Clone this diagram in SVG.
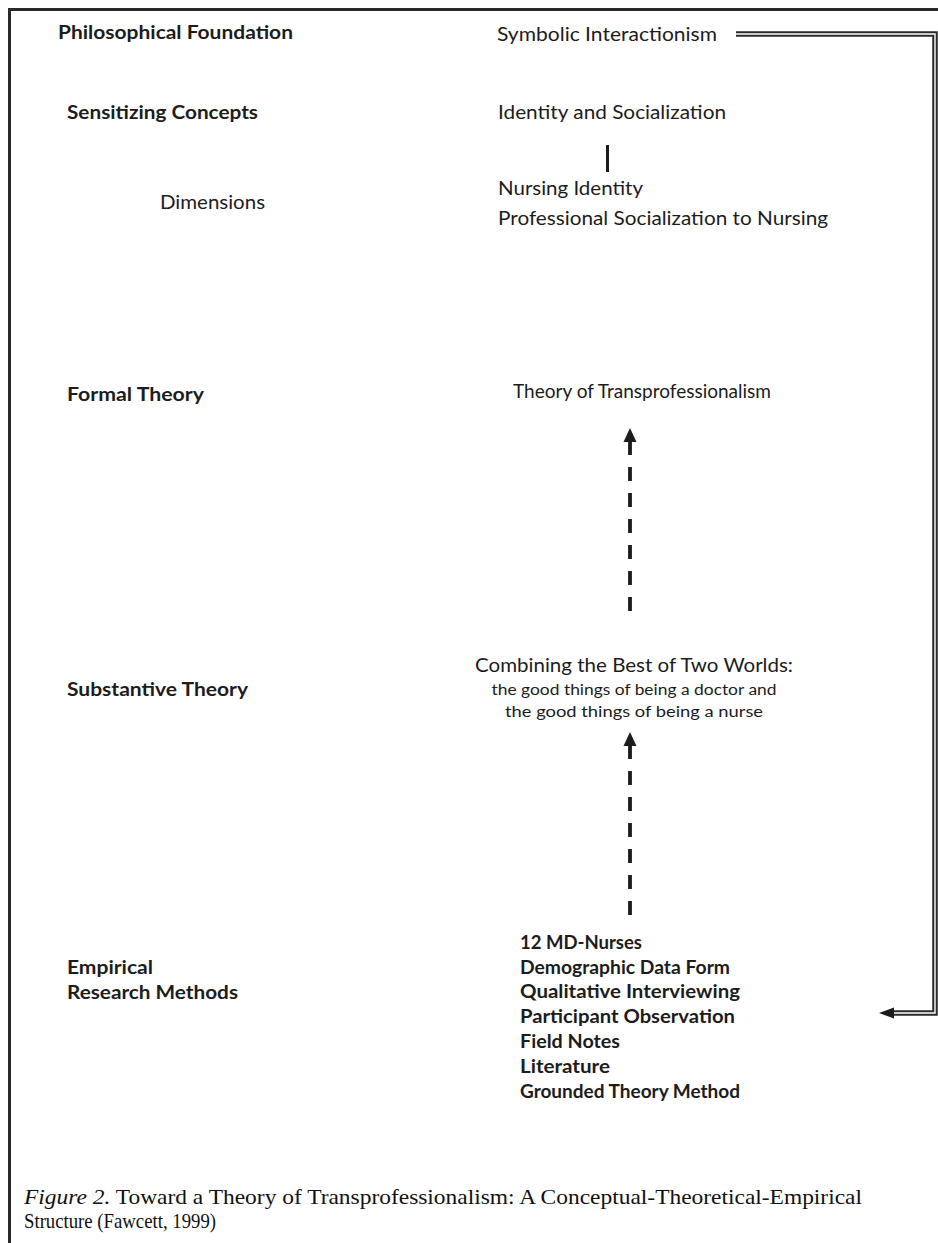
<svg xmlns="http://www.w3.org/2000/svg" width="938" height="1243" viewBox="0 0 938 1243">
<style>
  .t { font-family: Lato, "Open Sans", "Liberation Sans", sans-serif; font-size: 18.5px; fill: #1c1c1c; }
  .b { font-weight: bold; }
  .s { font-size: 15.5px; }
  .c { font-family: "Liberation Serif", "Times New Roman", serif; font-size: 21px; fill: #111; }
  .dash { stroke: #1c1c1c; stroke-width: 3.8; stroke-dasharray: 14 12; fill: none; }
  .head { fill: #1c1c1c; }
</style>
<rect width="938" height="1243" fill="#fff"/>
<g id="frame">
  <path d="M9.5,1243 V9.5 H938" fill="none" stroke="#2a2a2a" stroke-width="3"/>
</g>
<g id="labels">
  <text class="t b" x="58" y="39" textLength="235" lengthAdjust="spacingAndGlyphs">Philosophical Foundation</text>
  <text class="t b" x="67" y="119" textLength="191" lengthAdjust="spacingAndGlyphs">Sensitizing Concepts</text>
  <text class="t" x="160" y="209" textLength="105" lengthAdjust="spacingAndGlyphs">Dimensions</text>
  <text class="t b" x="67" y="401" textLength="137" lengthAdjust="spacingAndGlyphs">Formal Theory</text>
  <text class="t b" x="67" y="696" textLength="181" lengthAdjust="spacingAndGlyphs">Substantive Theory</text>
  <text class="t b" x="67" y="974" textLength="86" lengthAdjust="spacingAndGlyphs">Empirical</text>
  <text class="t b" x="67" y="999" textLength="171" lengthAdjust="spacingAndGlyphs">Research Methods</text>
</g>
<g id="symbolic">
  <text class="t" x="497" y="41" textLength="220" lengthAdjust="spacingAndGlyphs">Symbolic Interactionism</text>
</g>
<g id="concepts">
  <text class="t" x="498" y="119" textLength="228" lengthAdjust="spacingAndGlyphs">Identity and Socialization</text>
</g>
<g id="dimensions">
  <text class="t" x="498" y="195" textLength="145" lengthAdjust="spacingAndGlyphs">Nursing Identity</text>
  <text class="t" x="498" y="225" textLength="330" lengthAdjust="spacingAndGlyphs">Professional Socialization to Nursing</text>
</g>
<g id="formal">
  <text class="t" x="513" y="398" textLength="258" lengthAdjust="spacingAndGlyphs">Theory of Transprofessionalism</text>
</g>
<g id="substantive">
  <text class="t" x="634" y="672" text-anchor="middle" textLength="318" lengthAdjust="spacingAndGlyphs">Combining the Best of Two Worlds:</text>
  <text class="t s" x="634" y="695" text-anchor="middle" textLength="285" lengthAdjust="spacingAndGlyphs">the good things of being a doctor and</text>
  <text class="t s" x="634" y="717" text-anchor="middle" textLength="258" lengthAdjust="spacingAndGlyphs">the good things of being a nurse</text>
</g>
<g id="methods">
  <text class="t b" x="520" y="949" textLength="122" lengthAdjust="spacingAndGlyphs">12 MD-Nurses</text>
  <text class="t b" x="520" y="974" textLength="210" lengthAdjust="spacingAndGlyphs">Demographic Data Form</text>
  <text class="t b" x="520" y="998" textLength="220" lengthAdjust="spacingAndGlyphs">Qualitative Interviewing</text>
  <text class="t b" x="520" y="1023" textLength="215" lengthAdjust="spacingAndGlyphs">Participant Observation</text>
  <text class="t b" x="520" y="1048" textLength="100" lengthAdjust="spacingAndGlyphs">Field Notes</text>
  <text class="t b" x="520" y="1073" textLength="90" lengthAdjust="spacingAndGlyphs">Literature</text>
  <text class="t b" x="520" y="1098" textLength="220" lengthAdjust="spacingAndGlyphs">Grounded Theory Method</text>
</g>
<g id="connectors">
  <line x1="607.5" y1="145" x2="607.5" y2="172" stroke="#1c1c1c" stroke-width="3"/>
  <line class="dash" x1="630" y1="611" x2="630" y2="440"/>
  <polygon class="head" points="623.5,442 636.5,442 630,428"/>
  <line class="dash" x1="630" y1="915" x2="630" y2="744"/>
  <polygon class="head" points="623.5,746 636.5,746 630,732"/>
  <path d="M736,34 H935 V1013 H892" fill="none" stroke="#2a2a2a" stroke-width="5.5"/>
  <path d="M736,34 H935 V1013 H892" fill="none" stroke="#fff" stroke-width="1.4"/>
  <polygon class="head" points="879,1013 894,1007.5 894,1018.5"/>
</g>
<g id="caption">
  <text class="c" x="24" y="1204" textLength="838" lengthAdjust="spacingAndGlyphs"><tspan font-style="italic">Figure 2.</tspan> Toward a Theory of Transprofessionalism: A Conceptual-Theoretical-Empirical</text>
  <text class="c" x="24" y="1228" textLength="192" lengthAdjust="spacingAndGlyphs">Structure (Fawcett, 1999)</text>
</g>
</svg>
